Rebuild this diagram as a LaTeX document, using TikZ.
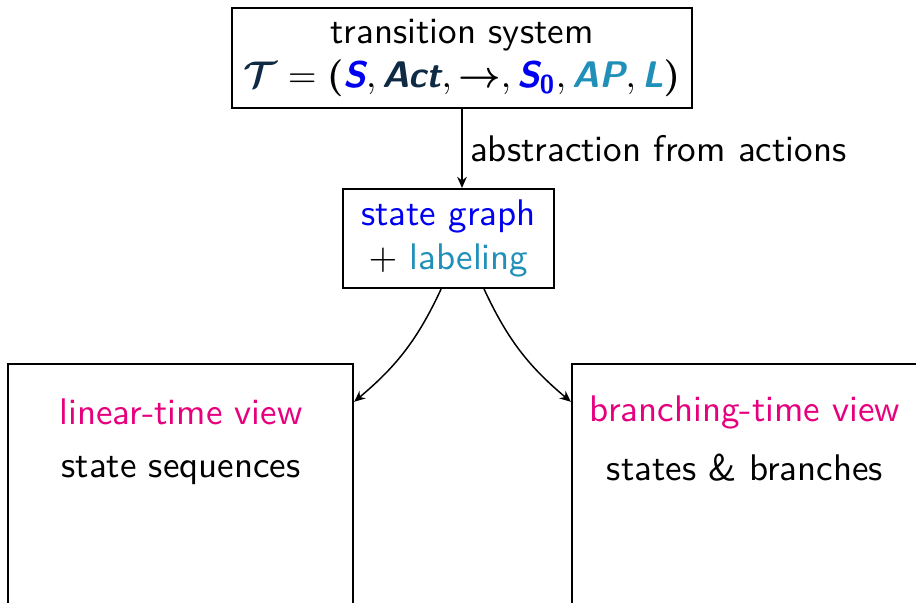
\documentclass[tikz,border=0pt]{standalone}
\usepackage{fontspec}
\usepackage{amsmath}
\usepackage{xcolor}
\usepackage{tikz}
\usetikzlibrary{arrows.meta, fit}
\definecolor{tsblue}{HTML}{0000F0}
\definecolor{tsteal}{HTML}{2090B8}
\definecolor{tsdark}{HTML}{0F2A44}
\definecolor{viewpink}{HTML}{E6007E}
\newcommand{\tsvar}[2]{\text{\textcolor{#1}{\bfseries\itshape #2}}}

\begin{document}
\begin{tikzpicture}[x=0.27pt, y=0.27pt, font=\sffamily,
  box/.style={draw, line width=0.6pt, inner sep=0pt, align=center},
  flow/.style={-{Stealth[length=3pt, width=2.6pt]}, line width=0.4pt}]

% ---- frame (the bottom boxes run off the page) --------------------------
\path[use as bounding box, clip] (0,0) rectangle (916,-602);

% ---- transition system and state graph ----------------------------------
\node[box, minimum width=124.2pt, minimum height=27pt] (ts) at (462,-58)
  {transition system\\
   $\textcolor{tsdark}{\boldsymbol{\mathcal{T}}} = \boldsymbol{(}\tsvar{tsblue}{S},
    \tsvar{tsdark}{Act}, \boldsymbol{\rightarrow},
    \tsvar{tsblue}{S}_{\text{\textcolor{tsblue}{\bfseries 0}}},
    \tsvar{tsteal}{AP}, \tsvar{tsteal}{L}\boldsymbol{)}$};
\node[box, minimum width=57pt, minimum height=26.7pt] (sg) at (448.5,-238.5)
  {\textcolor{tsblue}{state graph}\\ $+$ \textcolor{tsteal}{labeling}};
\draw[flow] (ts.south) -- (ts.south |- sg.north)
  node[midway, anchor=west, inner sep=2pt] (abs) {abstraction from actions};

% ---- the two views ------------------------------------------------------
\node[box, fit={(8,-364) (353,-640)}] (lin) {};
\node[box, fit={(572,-364) (960,-640)}] (brn) {};
\node[text=viewpink] (lintitle) at (181,-412) {linear-time view};
\node (lintext) at (181,-470) {state sequences};
\node[text=viewpink] (brntitle) at (745,-412) {branching-time view};
\node (brntext) at (745,-468) {states \& branches};

\draw[flow] ([xshift=-2pt]sg.south) to[out=-115, in=40]
  ([yshift=-10.5pt]lin.north east);
\draw[flow] ([xshift=9.6pt]sg.south) to[out=-65, in=140]
  ([yshift=-10.5pt]brn.north west);
\end{tikzpicture}
\end{document}
